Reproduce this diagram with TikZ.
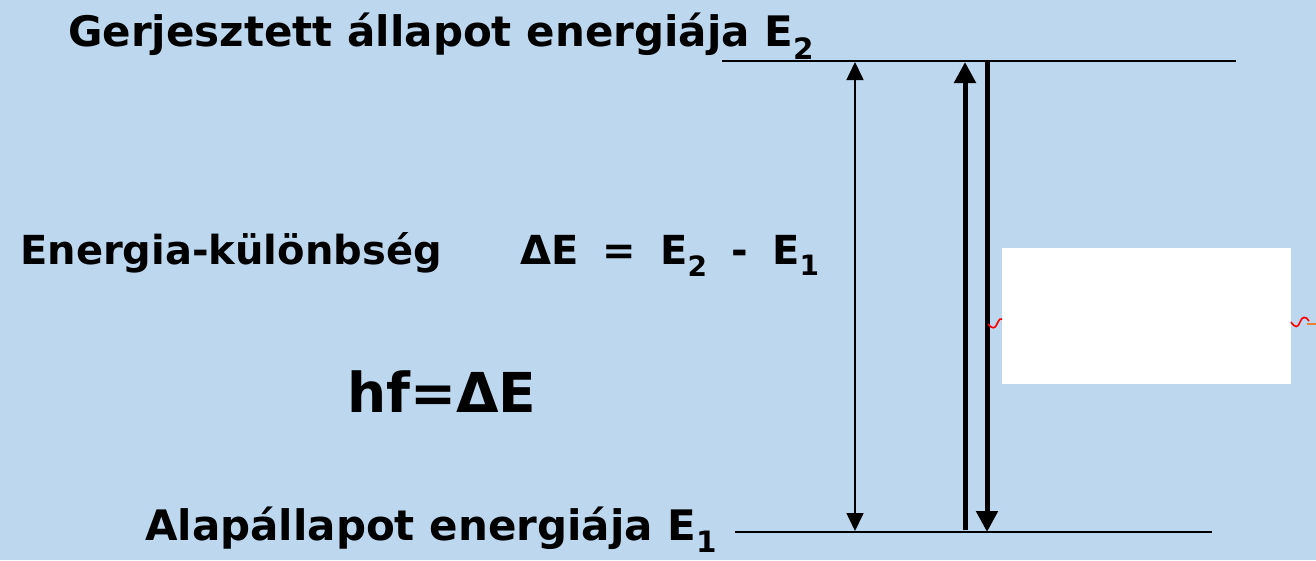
\documentclass[tikz,border=0pt]{standalone}
\usepackage{fontspec}
\setmainfont{DejaVu Sans}
\usetikzlibrary{arrows.meta}
\definecolor{bgblue}{HTML}{BDD7EE}
\definecolor{wavered}{HTML}{FF0000}
\definecolor{waveorange}{HTML}{ED7D31}
\tikzset{
  lbl/.style={anchor=base west, inner sep=0pt, font=\bfseries\fontsize{42}{48}\selectfont},
  mid/.style={anchor=base west, inner sep=0pt, font=\bfseries\fontsize{40}{46}\selectfont},
  big/.style={anchor=base west, inner sep=0pt, font=\bfseries\fontsize{55}{62}\selectfont},
  level/.style={line width=1.6pt},
  thinarr/.style={line width=1.6pt, {Triangle[length=18pt,width=17pt]}-{Triangle[length=18pt,width=17pt]}},
  thickarr/.style={line width=5pt, -{Triangle[length=21pt,width=21pt]}},
  wave/.style={wavered, line width=1.6pt}
}
\begin{document}
\begin{tikzpicture}[x=1pt,y=-1pt]
\fill[bgblue] (0,0) rectangle (1316,560);
\useasboundingbox (0,0) rectangle (1316,560);
% labels
\node[lbl] (t2) at (68,46) {Gerjesztett állapot energiája E\textsubscript{2}};
\node[mid] (de) at (20,264) {Energia-különbség};
\node[mid] (eq) at (520,264) {ΔE\,\hspace{3.5pt} =\,\hspace{3.5pt} E\textsubscript{2}\,\hspace{3.5pt} -\,\hspace{3.5pt} E\textsubscript{1}};
\node[big] (hf) at (347,412) {hf=ΔE};
\node[lbl] (t1) at (145,540) {Alapállapot energiája  E\textsubscript{1}};
% levels
\coordinate (L2a) at (722,61);
\coordinate (L2b) at (1236,61);
\coordinate (L1a) at (735,532);
\coordinate (L1b) at (1212,532);
\draw[level] (L2a) -- (L2b);
\draw[level] (L1a) -- (L1b);
% arrows
\coordinate (a1t) at (855,62);
\coordinate (a1b) at (855,531);
\draw[thinarr] (a1b) -- (a1t);
\coordinate (a2b) at (965,530);
\coordinate (a2t) at (965,62);
\draw[thickarr] (a2b) -- (a2t);
\coordinate (a3t) at (987,61);
\coordinate (a3b) at (987,532);
\draw[thickarr] (a3t) -- (a3b);
% white box
\node[fill=white, inner sep=0pt, minimum width=289pt, minimum height=136pt, anchor=north west] (box) at (1002,248) {};
% waves
\draw[wave] (988,324) .. controls (992,329) and (995,329) .. (997,324) .. controls (999,319) and (1001,318) .. (1002,319);
\draw[wave] (1291,322) .. controls (1295,328) and (1298,328) .. (1300,322) .. controls (1302,316) and (1306,316) .. (1309,321);
\draw[waveorange, line width=1.8pt] (1307,324) -- (1316,324);
\end{tikzpicture}
\end{document}
